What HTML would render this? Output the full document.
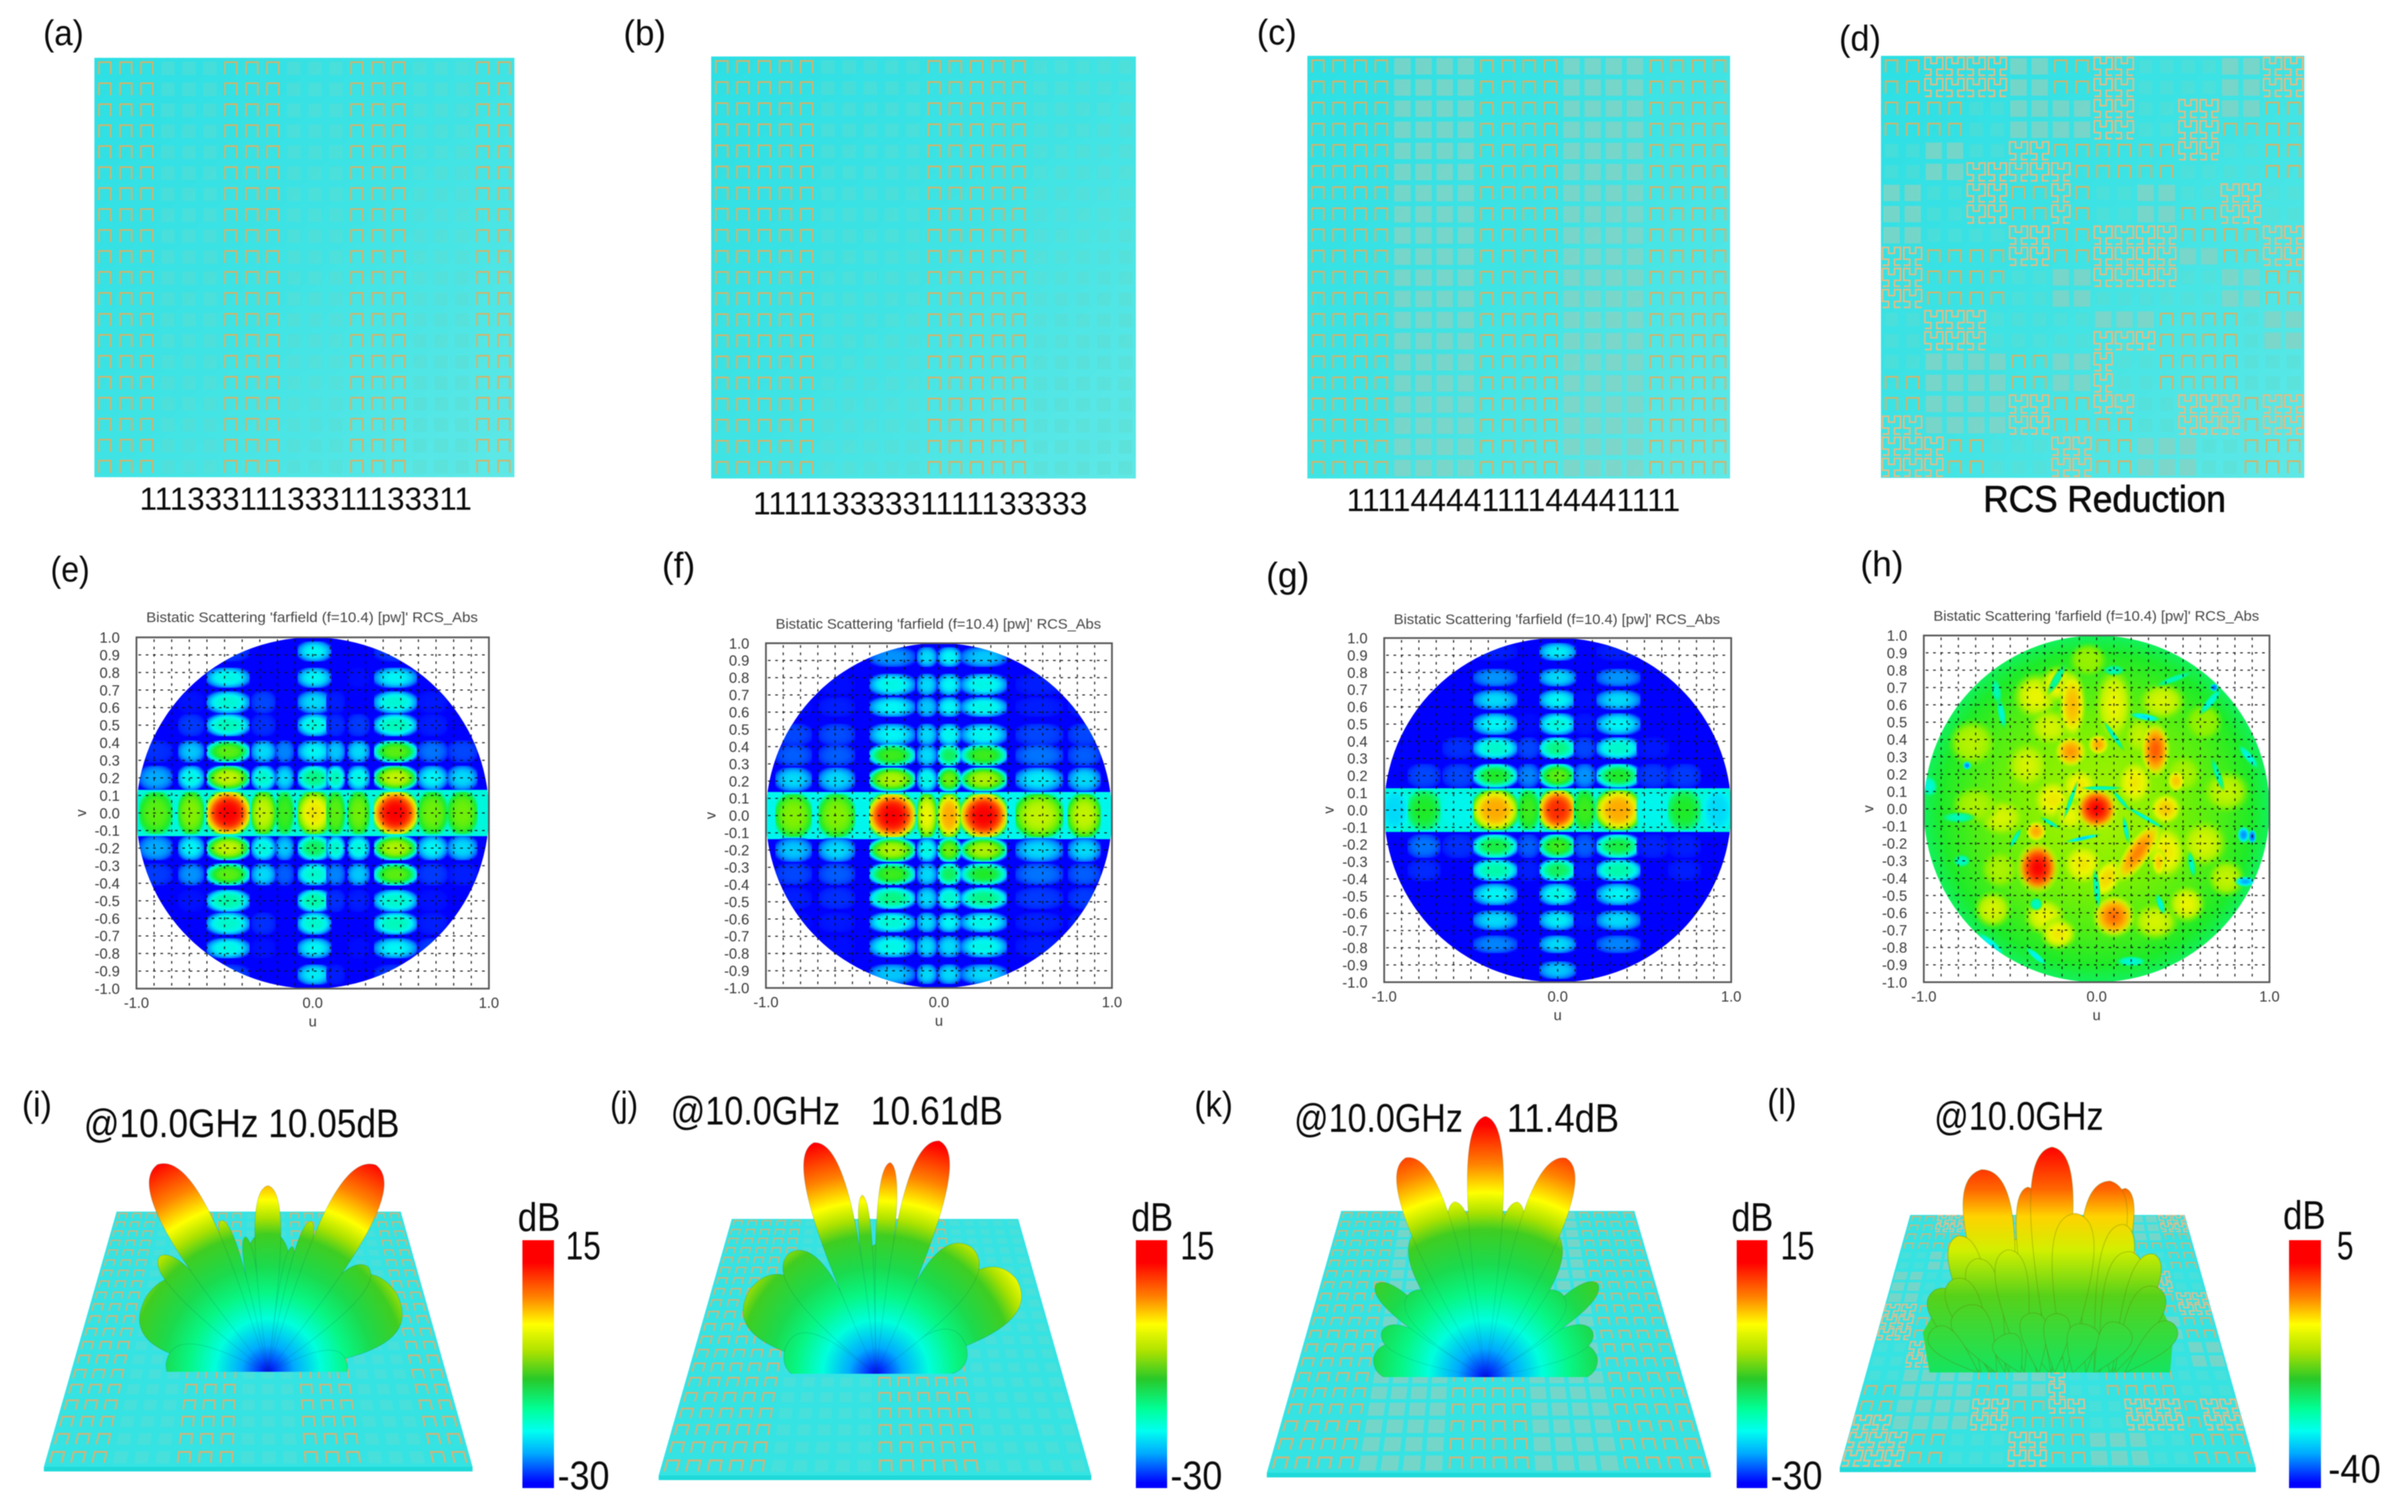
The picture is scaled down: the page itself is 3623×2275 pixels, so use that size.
<!DOCTYPE html>
<html lang="en">
<head>
<meta charset="utf-8">
<title>Coding metasurface RCS comparison</title>
<style>
html,body{margin:0;padding:0;background:#fff;}
#figure{position:relative;width:3623px;height:2275px;overflow:hidden;background:#fff;}
#root{position:absolute;left:0;top:0;filter:blur(0.8px);}
text{font-family:"Liberation Sans",sans-serif;fill:#0a0a0a;}
.title3d{font-size:60px;}
.cap{font-size:48px;}
.plabel{font-size:54px;}
.cb{font-size:60px;}
</style>
</head>
<body>
<div id="figure">
<svg id="root" xmlns="http://www.w3.org/2000/svg" width="3623" height="2275" viewBox="0 0 3623 2275">
<defs id="defs"></defs>
<g id="layer"></g>

<g>
<text class="plabel" x="65" y="68" textLength="61" lengthAdjust="spacingAndGlyphs">(a)</text>
<text class="plabel" x="938" y="68" textLength="64" lengthAdjust="spacingAndGlyphs">(b)</text>
<text class="plabel" x="1891" y="67" textLength="60" lengthAdjust="spacingAndGlyphs">(c)</text>
<text class="plabel" x="2767" y="76" textLength="63" lengthAdjust="spacingAndGlyphs">(d)</text>
<text class="plabel" x="76" y="875" textLength="59" lengthAdjust="spacingAndGlyphs">(e)</text>
<text class="plabel" x="996" y="869" textLength="50" lengthAdjust="spacingAndGlyphs">(f)</text>
<text class="plabel" x="1905" y="884" textLength="65" lengthAdjust="spacingAndGlyphs">(g)</text>
<text class="plabel" x="2799" y="867" textLength="65" lengthAdjust="spacingAndGlyphs">(h)</text>
<text class="plabel" x="33" y="1680" textLength="45" lengthAdjust="spacingAndGlyphs">(i)</text>
<text class="plabel" x="918" y="1680" textLength="42" lengthAdjust="spacingAndGlyphs">(j)</text>
<text class="plabel" x="1797" y="1680" textLength="58" lengthAdjust="spacingAndGlyphs">(k)</text>
<text class="plabel" x="2659" y="1676" textLength="44" lengthAdjust="spacingAndGlyphs">(l)</text>
</g>

<g>
<text class="cap" x="210" y="767" textLength="500" lengthAdjust="spacingAndGlyphs">11133311133311133311</text>
<text class="cap" x="1133" y="774" textLength="503" lengthAdjust="spacingAndGlyphs">11111333331111133333</text>
<text class="cap" x="2026" y="769" textLength="502" lengthAdjust="spacingAndGlyphs">11114444111144441111</text>
<text x="2984" y="770" font-size="56" stroke="#0a0a0a" stroke-width="1" textLength="365" lengthAdjust="spacingAndGlyphs">RCS Reduction</text>
</g>

<g>
<text class="title3d" x="126" y="1711" textLength="475" lengthAdjust="spacingAndGlyphs">@10.0GHz 10.05dB</text>
<text class="title3d" x="1009" y="1692" textLength="255" lengthAdjust="spacingAndGlyphs">@10.0GHz</text>
<text class="title3d" x="1310" y="1692" textLength="199" lengthAdjust="spacingAndGlyphs">10.61dB</text>
<text class="title3d" x="1947" y="1703" textLength="254" lengthAdjust="spacingAndGlyphs">@10.0GHz</text>
<text class="title3d" x="2267" y="1703" textLength="169" lengthAdjust="spacingAndGlyphs">11.4dB</text>
<text class="title3d" x="2910" y="1700" textLength="255" lengthAdjust="spacingAndGlyphs">@10.0GHz</text>
</g>

<g>
<text class="cb" x="779" y="1852" textLength="64" lengthAdjust="spacingAndGlyphs">dB</text>
<text class="cb" x="851" y="1895" textLength="53" lengthAdjust="spacingAndGlyphs">15</text>
<text class="cb" x="839" y="2241" textLength="78" lengthAdjust="spacingAndGlyphs">-30</text>
<text class="cb" x="1702" y="1852" textLength="63" lengthAdjust="spacingAndGlyphs">dB</text>
<text class="cb" x="1776" y="1895" textLength="51" lengthAdjust="spacingAndGlyphs">15</text>
<text class="cb" x="1761" y="2241" textLength="78" lengthAdjust="spacingAndGlyphs">-30</text>
<text class="cb" x="2605" y="1852" textLength="63" lengthAdjust="spacingAndGlyphs">dB</text>
<text class="cb" x="2679" y="1895" textLength="51" lengthAdjust="spacingAndGlyphs">15</text>
<text class="cb" x="2664" y="2241" textLength="78" lengthAdjust="spacingAndGlyphs">-30</text>
<text class="cb" x="3435" y="1849" textLength="64" lengthAdjust="spacingAndGlyphs">dB</text>
<text class="cb" x="3516" y="1895" textLength="25" lengthAdjust="spacingAndGlyphs">5</text>
<text class="cb" x="3503" y="2231" textLength="79" lengthAdjust="spacingAndGlyphs">-40</text>
</g>
</svg>
</div>

<script>
/* ---------- axis tick labels ---------- */
const vTickLabels = ['1.0','0.9','0.8','0.7','0.6','0.5','0.4','0.3','0.2','0.1','0.0','-0.1','-0.2','-0.3','-0.4','-0.5','-0.6','-0.7','-0.8','-0.9','-1.0'];
const vTickValues = [1,.9,.8,.7,.6,.5,.4,.3,.2,.1,0,-.1,-.2,-.3,-.4,-.5,-.6,-.7,-.8,-.9,-1];
const uTickLabels = ['-1.0','0.0','1.0'];
const uTickValues = [-1,0,1];
const gridValues = [-.9,-.8,-.7,-.6,-.5,-.4,-.3,-.2,-.1,0,.1,.2,.3,.4,.5,.6,.7,.8,.9];

/* ---------- coding sequences ---------- */
const codeA = '11133311133311133311';
const codeB = '11111333331111133333';
const codeC = '11114444111144441111';
const codeD = [
'11222244112233334422','11222244112233334422','11113344442233224411','11113344442233221111',
'33443322111111223311','33442222211111333311','44332211213344332233','44332211213344112233',
'44333322112222111122','22111122112222441122','22111133442222334411','22111133443333334411',
'33222333334441111344','33222333332221111344','33444411442331111333','11444411442331111333',
'11444422112233222122','22444422111133222122','22211333221144433111','22211333221144433111'];

/* ---------- RCS heatmap (e) ---------- */
const eU = [-.89,-.69,-.48,-.28,-.16,.01,.13,.26,.47,.68,.85];
const eUHalf = [.09,.07,.115,.065,.05,.09,.05,.06,.115,.08,.08];
const eV = [.92,.77,.63,.5,.35,.2,0,-.2,-.35,-.5,-.63,-.77,-.92];
const eVHalf = [.05,.05,.055,.055,.055,.06,.12,.06,.055,.055,.055,.05,.05];
const eLevels = [
[0,0,.1,0,0,.33,0,0,.1,0,0],
[0,0,.35,0,0,.33,0,.02,.33,0,0],
[0,.03,.37,.12,0,.3,.05,0,.37,.04,0],
[0,.1,.4,.08,0,.36,.08,.1,.4,.05,0],
[.08,.28,.58,.3,.2,.33,.28,.3,.58,.18,.12],
[.25,.35,.68,.38,.3,.45,.4,.35,.68,.33,.3],
[.58,.62,1,.68,.55,.74,.58,.6,1,.6,.6],
[.25,.33,.68,.36,.28,.48,.38,.36,.66,.33,.3],
[.1,.22,.58,.3,.15,.38,.2,.28,.58,.1,.05],
[0,.03,.42,0,0,.42,.08,.05,.38,.03,0],
[0,0,.38,.08,0,.38,0,0,.4,.05,0],
[0,0,.35,.03,0,.33,0,.02,.33,.1,0],
[0,0,.12,0,0,.32,.05,0,.1,0,0]];

/* ---------- RCS heatmap (f) ---------- */
const fU = [-.84,-.59,-.27,-.07,.06,.26,.58,.84];
const fUHalf = [.1,.1,.125,.055,.065,.125,.13,.09];
const fV = [.92,.76,.63,.47,.35,.21,0,-.2,-.34,-.48,-.62,-.76,-.92];
const fVHalf = [.05,.055,.05,.055,.055,.06,.125,.06,.055,.055,.05,.055,.05];
const fLevels = [
[0,0,.22,.3,.33,.28,0,0],
[.05,.02,.35,.3,.33,.35,.05,0],
[.02,.05,.33,.28,.33,.35,.05,.05],
[.12,.13,.33,.3,.34,.34,.12,.12],
[.15,.15,.55,.3,.48,.55,.18,.15],
[.3,.3,.66,.35,.6,.66,.32,.3],
[.62,.62,1,.72,.82,1,.68,.68],
[.28,.3,.66,.35,.6,.66,.3,.3],
[.12,.15,.55,.3,.48,.52,.18,.15],
[.05,.08,.45,.3,.38,.45,.1,.1],
[.02,.04,.37,.3,.33,.35,.06,.05],
[0,.02,.35,.3,.3,.35,.05,.02],
[0,0,.28,.3,.3,.3,0,0]];

/* ---------- RCS heatmap (g) ---------- */
const gU = [-.94,-.77,-.57,-.36,-.17,0,.155,.35,.55,.73,.92];
const gUHalf = [.07,.09,.09,.12,.06,.1,.06,.12,.09,.09,.07];
const gV = [.92,.77,.64,.5,.36,.2,0,-.21,-.35,-.49,-.64,-.78,-.93];
const gVHalf = [.045,.045,.05,.055,.055,.06,.115,.06,.055,.055,.05,.045,.045];
const gLevels = [
[0,0,0,.05,0,.32,0,.05,0,0,0],
[0,0,0,.22,0,.3,0,.22,0,0,0],
[0,0,0,.3,0,.33,.02,.3,0,0,0],
[0,0,0,.33,.02,.36,.04,.33,0,0,0],
[0,0,.08,.38,.12,.45,.12,.38,.04,0,0],
[0,.12,.12,.52,.2,.58,.22,.52,.1,.1,0],
[.3,.52,.34,.82,.55,.95,.55,.82,.34,.52,.3],
[0,.18,.08,.5,.15,.55,.15,.5,.06,.05,0],
[0,.07,0,.42,.05,.48,.05,.42,0,.05,0],
[0,0,0,.33,0,.35,0,.33,0,0,0],
[0,0,0,.3,0,.32,.03,.3,0,0,0],
[0,0,0,.2,0,.3,0,.2,0,0,0],
[0,0,0,0,0,.28,0,0,0,0,0]];

/* ---------- RCS heatmap (h): u, v, radius u, radius v, level, tilt ---------- */
const hHotspots = [
[-.35,.65,.1,.1,.72,0],[-.4,.25,.09,.1,.7,0],[-.25,.05,.09,.09,.74,0],[-.1,.13,.08,.08,.74,0],[-.55,-.05,.1,.08,.7,0],
[-.72,.38,.1,.1,.67,0],[.1,.6,.08,.16,.72,0],[.38,.62,.1,.08,.7,0],[.4,0,.07,.07,.78,0],[.4,-.25,.09,.12,.74,0],
[.62,-.2,.1,.1,.7,0],[.75,-.4,.08,.08,.68,0],[.5,.2,.08,.08,.66,0],[.75,.1,.1,.09,.68,0],[-.7,.02,.1,.08,.66,0],
[-.3,-.62,.09,.08,.72,0],[-.6,-.58,.08,.08,.7,0],[-.22,-.72,.08,.07,.74,0],[.34,-.65,.1,.08,.7,0],[.52,-.55,.08,.08,.72,0],
[-.05,.86,.08,.07,.64,0],[.22,.15,.08,.1,.74,0],[-.08,-.32,.09,.09,.74,0],[.06,-.4,.06,.1,.76,30],[.25,.42,.07,.08,.68,0],
[-.27,.47,.09,.08,.7,0],[-.15,-.04,.07,.07,.72,0],[-.56,-.35,.08,.08,.66,0],[.62,.5,.08,.08,.64,0],[-.22,.72,.08,.08,.74,0],
[-.14,.6,.06,.15,.8,0],[-.15,.33,.075,.075,.84,0],[.01,.37,.05,.05,.82,0],[.34,.34,.07,.13,.9,0],[.46,.16,.04,.05,.78,0],
[.1,-.62,.1,.1,.88,0],[.24,-.25,.06,.17,.86,35],[-.35,-.13,.05,.05,.82,0],[.36,-.31,.03,.06,.78,0],
[0,0,.1,.1,1,0],[-.34,-.34,.1,.12,1,0]];
/* u, v, half length, half thickness, level, tilt */
const hStreaks = [
[-.55,.55,.07,.018,.36,80],[-.58,.68,.06,.025,.4,80],[.28,.53,.07,.016,.3,10],[.1,.42,.08,.012,.38,55],[-.23,.75,.08,.02,.42,-60],
[.03,.12,.09,.01,.38,0],[-.15,.05,.09,.01,.38,-70],[.14,.05,.06,.01,.38,50],[.28,-.05,.1,.01,.36,30],[.17,-.12,.06,.012,.36,80],
[-.08,-.17,.08,.01,.28,-12],[-.27,-.08,.05,.01,.38,30],[-.47,-.17,.05,.012,.38,-60],[-.8,-.05,.08,.025,.4,0],[-.75,.25,.02,.02,.2,0],
[-.97,.13,.05,.04,.36,80],[-.78,-.3,.04,.03,.38,0],[-.35,-.55,.03,.03,.38,0],[.0,-.46,.09,.016,.38,85],[.37,-.55,.05,.016,.36,70],
[.55,-.32,.06,.016,.38,80],[.86,-.42,.05,.025,.25,0],[.88,.3,.07,.02,.34,50],[.66,.62,.08,.02,.36,-50],[.85,-.15,.03,.04,.22,0],
[-.35,-.85,.06,.016,.32,40],[-.61,-.78,.08,.02,.32,40],[.2,-.88,.07,.025,.36,0],[.1,.8,.05,.025,.4,0],[.7,.2,.08,.016,.4,70],
[.68,.7,.02,.02,.18,0],[.9,-.16,.02,.035,.16,0],[.45,.75,.09,.016,.4,-20],[-.62,-.92,.03,.02,.36,0]];

/* ---------- radiation lobes: angle from boresight (deg), peak level (dB), beam width (deg) ---------- */
const iAngle = [-58,58,-85,85,0,-35,35,-43,43.5,-18,20,11,-9.5,16,-17,0,-28,27.5];
const iPeakDb = [-5.6,-4.3,-12.6,-16.4,-6,-12,-12,-3,-5.2,-12,-12,-8.2,-6.6,-3.2,-2.9,1.8,10.05,9.8];
const iBeam = [36,34,30,30,22,20,20,12,15,14,14,6,6,7,7,10,14.5,14.5];

const jAngle = [-56.4,56,-75,72,-20,20,0,-35.4,36.7,-4.4,3.8,-15,15.2];
const jPeakDb = [-4.3,-1.3,-14,-14,-14,-14,-8,-4.8,-3.1,.4,5.9,10.56,10.9];
const jBeam = [32,26,34,34,20,20,12,20,22,5,6.5,12,12];

const kAngle = [-80,80,-65.8,66.6,-49.5,50,-42,42,-22,22,0,-10,10.3,-19.9,20.1,0];
const kPeakDb = [-12,-12,-12,-11.5,-7.2,-6.8,-12,-12,-4,-4,-2,-1.7,-1.7,7.05,7.05,11.4];
const kBeam = [24,24,18,18,12,12,22,22,24,24,20,10,10,13,13,10];

const lRoot = [0,-.5,.5,.38,.3,-.11,.04,.01,-.34,.13,-.46,.37,-.37,-.21,.41,.52,-.57,-.48,.54,-.44,-.09,.04,-.24,.19,.37,.62,-.59];
const lAngle = [0,-8,8,9.3,7.2,-2.7,1,.3,-7.6,3.7,-15,11.2,-14.5,-7.9,15,19.2,-29,-22,26.5,-28,-7,3,-27,17,31,45.7,-47.6];
const lPeakDb = [-14,-20,-20,-4.8,-3.6,-5,-6.6,2.5,-1.4,-9.9,-13.3,-11.5,-17.8,-16.6,-16.4,-16.3,-22.1,-20.9,-22,-26,-28.6,-28.8,-32.1,-30.5,-29.4,-26.9,-28];
const lBeam = [60,30,30,10.5,16.5,10.5,13,13.5,17,18.5,16.5,15.5,19.5,18.5,20,16.5,25,23,25,36,31,31,47,44,40,27,30];

/* ---------- colour scale (position along colorbar, RGB) ---------- */
const barStops = [[0,0,0,255],[.02,0,0,255],[.14,0,170,255],[.23,0,255,240],[.32,0,255,150],[.44,40,200,40],[.55,170,225,0],[.66,255,255,0],[.77,255,130,0],[.91,255,0,0],[1,255,0,0]];
const heatStops = [[0,0,0,255],[.12,0,70,255],[.25,0,170,255],[.33,0,245,245],[.42,0,250,170],[.52,30,235,40],[.62,130,240,0],[.72,235,245,0],[.82,255,170,0],[.92,255,70,0],[1,250,0,0]];
/* gain radius fraction to colorbar position for the lobe surfaces */
const lobeShade = [[0,0],[.1,.14],[.2,.25],[.3,.34],[.4,.4],[.52,.46],[.58,.55],[.65,.66],[.75,.77],[.89,.91],[1,1]];

const NS = 'http://www.w3.org/2000/svg';
const defs = document.getElementById('defs');
const layer = document.getElementById('layer');

function mk(tag, attrs, parent) {
  const e = document.createElementNS(NS, tag);
  for (const k in attrs) e.setAttribute(k, attrs[k]);
  if (parent) parent.appendChild(e);
  return e;
}
function ramp(stops, t) {
  t = Math.max(0, Math.min(1, t));
  for (let i = 1; i < stops.length; i++) {
    if (t <= stops[i][0]) {
      const a = stops[i - 1], b = stops[i], f = (t - a[0]) / ((b[0] - a[0]) || 1);
      return 'rgb(' + [1, 2, 3].map(c => Math.round(a[c] + (b[c] - a[c]) * f)).join(',') + ')';
    }
  }
  return 'rgb(250,0,0)';
}
const heatColor = t => ramp(heatStops, t);
const barColor = t => ramp(barStops, t);

/* ---------- metasurface unit cells ---------- */
const hilbertPts = [[0,3],[1,3],[1,2],[0,2],[0,1],[0,0],[1,0],[1,1],[2,1],[2,0],[3,0],[3,1],[3,2],[2,2],[2,3],[3,3]];

function drawBoard(group, rowsOfCodes, project, base) {
  const nRows = rowsOfCodes.length;
  for (let r = 0; r < nRows; r++) {
    const code = rowsOfCodes[r];
    const nCols = code.length;
    for (let c = 0; c < nCols; c++) {
      const cu = (c + .5) / nCols, cv = (r + .5) / nRows, du = 1 / nCols, dv = 1 / nRows;
      const pt = (a, b) => project(cu + a * du, cv + b * dv);
      const pitch = project(cu + du / 2, cv)[0] - project(cu - du / 2, cv)[0];
      const sw = Math.max(1.2, pitch * base.strokeRatio);
      const ch = code[c];
      if (ch === '1') {
        const p = [pt(-.28, .29), pt(-.28, -.29), pt(.28, -.29), pt(.28, .29)];
        const cell = mk('polyline', {points: p.map(q => q.map(v => v.toFixed(1)).join(',')).join(' '), fill: 'none', stroke: base.metal, 'stroke-width': sw.toFixed(2)}, group);
        
        
      } else if (ch === '2') {
        const s = .84 / 3;
        const p = hilbertPts.map(q => pt(-.42 + q[0] * s, -.42 + q[1] * s));
        const cell = mk('polyline', {points: p.map(q => q.map(v => v.toFixed(1)).join(',')).join(' '), fill: 'none', stroke: base.metal2, 'stroke-width': sw.toFixed(2)}, group);
        
        
      } else {
        const h = ch === '4' ? .39 : .32;
        const p = [pt(-h, -h), pt(h, -h), pt(h, h), pt(-h, h)];
        const cell = mk('polygon', {points: p.map(q => q.map(v => v.toFixed(1)).join(',')).join(' '), fill: ch === '4' ? '#8ad2c0' : '#5fdccf', 'fill-opacity': ch === '4' ? .75 : .45}, group);
        
        
      }
    }
  }
}

const boardGrad = mk('linearGradient', {id: 'boardFill', x1: 0, y1: 0, x2: 1, y2: 1}, defs);
mk('stop', {offset: 0, 'stop-color': '#2cdfe4'}, boardGrad);
mk('stop', {offset: .5, 'stop-color': '#3fe3e4'}, boardGrad);
mk('stop', {offset: 1, 'stop-color': '#5ee8e6'}, boardGrad);

function expand(code) { const a = []; for (let i = 0; i < 20; i++) a.push(code); return a; }

function flatPanel(key, codes, x0, y0, x1, y1) {
  const g = mk('g', {}, layer);
  
  
  const bg = mk('rect', {x: x0, y: y0, width: x1 - x0, height: y1 - y0, fill: 'url(#boardFill)'}, g);
  
  
  drawBoard(g, codes, (u, v) => [x0 + u * (x1 - x0), y0 + v * (y1 - y0)], {strokeRatio: .075, metal: '#dab065', metal2: '#e8ba82'});
}
flatPanel('a', expand(codeA), 142, 87, 774, 718);
flatPanel('b', expand(codeB), 1070, 85, 1709, 720);
flatPanel('c', expand(codeC), 1967, 84, 2603, 720);
flatPanel('d', codeD, 2830, 84, 3467, 719);

/* ---------- RCS plots ---------- */
const gradCache = {};
function blobGradient(level, floor) {
  const key = 'b' + Math.round(level * 100) + '_' + Math.round(floor * 100);
  if (gradCache[key]) return key;
  gradCache[key] = 1;
  const g = mk('radialGradient', {id: key, cx: .5, cy: .5, r: .62}, defs);
  for (let i = 0; i <= 10; i++) {
    const t = i / 10;
    const lv = floor + (level - floor) * (1 - Math.pow(t, 3.4));
    mk('stop', {offset: t, 'stop-color': heatColor(lv), 'stop-opacity': t < .85 ? 1 : (1 - (t - .85) / .15).toFixed(2)}, g);
  }
  return key;
}
function softGradient(level, rim) {
  const key = 's' + Math.round(level * 100) + '_' + Math.round(rim * 100);
  if (gradCache[key]) return key;
  gradCache[key] = 1;
  const g = mk('radialGradient', {id: key, cx: .5, cy: .5, r: .5}, defs);
  for (let i = 0; i <= 8; i++) {
    const t = i / 8;
    const lv = rim + (level - rim) * (1 - t * t);
    mk('stop', {offset: t, 'stop-color': heatColor(lv), 'stop-opacity': t < .6 ? 1 : (1 - (t - .6) / .4).toFixed(2)}, g);
  }
  return key;
}

function rcsFrame(key, x0, y0, x1, y1, titleX0, titleX1, titleY) {
  const X = u => x0 + (u + 1) / 2 * (x1 - x0);
  const Y = v => y1 - (v + 1) / 2 * (y1 - y0);
  const g = mk('g', {}, layer);
  
  
  const clip = mk('clipPath', {id: 'disc' + key}, defs);
  mk('ellipse', {cx: X(0), cy: Y(0), rx: (x1 - x0) / 2, ry: (y1 - y0) / 2}, clip);
  const field = mk('g', {'clip-path': 'url(#disc' + key + ')'}, g);
  
  
  return {X, Y, g, field, finish() {
    const grid = mk('g', {stroke: '#111', 'stroke-width': 1.5, 'stroke-dasharray': '4 7', fill: 'none'}, g);
    
    
    gridValues.forEach(u => {
      const l = mk('line', {x1: X(u), x2: X(u), y1: y0 + 3, y2: y1 - 3}, grid);
      
      
    });
    gridValues.forEach(v => {
      const l = mk('line', {x1: x0 + 3, x2: x1 - 3, y1: Y(v), y2: Y(v)}, grid);
      
      
    });
    const box = mk('rect', {x: x0, y: y0, width: x1 - x0, height: y1 - y0, fill: 'none', stroke: '#555', 'stroke-width': 2.6}, g);
    
    
    vTickLabels.forEach((lab, i) => {
      const t = mk('text', {x: x0 - 25, y: Y(vTickValues[i]) + 8, 'text-anchor': 'end', 'font-size': 22, style: 'fill:#383838'}, g);
      t.textContent = lab;
      
      
    });
    uTickLabels.forEach((lab, i) => {
      const t = mk('text', {x: X(uTickValues[i]), y: y1 + 29, 'text-anchor': 'middle', 'font-size': 22, style: 'fill:#383838'}, g);
      t.textContent = lab;
      
      
    });
    const xt = mk('text', {x: X(0), y: y1 + 57, 'text-anchor': 'middle', 'font-size': 22, style: 'fill:#383838'}, g);
    xt.textContent = 'u';
    
    
    const yt = mk('text', {x: x0 - 76, y: Y(0), 'text-anchor': 'middle', 'font-size': 22, transform: 'rotate(-90 ' + (x0 - 76) + ' ' + Y(0) + ')', style: 'fill:#383838'}, g);
    yt.textContent = 'v';
    
    
    const tt = mk('text', {x: titleX0, y: titleY, 'font-size': 21, textLength: titleX1 - titleX0, lengthAdjust: 'spacingAndGlyphs', style: 'fill:#444'}, g);
    tt.textContent = "Bistatic Scattering 'farfield (f=10.4) [pw]' RCS_Abs";
    
    
  }};
}

function gridHeat(key, box, U, UHalf, V, VHalf, levels, bandLevel, title) {
  const f = rcsFrame(key, box[0], box[1], box[2], box[3], title[0], title[1], title[2]);
  const X = f.X, Y = f.Y;
  const disc = mk('rect', {x: box[0], y: box[1], width: box[2] - box[0], height: box[3] - box[1], fill: heatColor(0)}, f.field);
  
  
  const bandRow = V.indexOf(0);
  const hh = VHalf[bandRow] + .012;
  const band = mk('rect', {x: box[0], y: Y(hh), width: box[2] - box[0], height: Y(-hh) - Y(hh), fill: heatColor(bandLevel)}, f.field);
  
  
  V.forEach((v, j) => {
    U.forEach((u, i) => {
      const L = levels[j][i];
      if (L < .02) return;
      const vGrow = v === 0 ? 1 : 1.15;
      const x = X(u - UHalf[i] * 1.06), w = X(u + UHalf[i] * 1.06) - x, y = Y(v + VHalf[j] * vGrow), h = Y(v - VHalf[j] * vGrow) - y;
      const floor = v === 0 ? bandLevel : 0;
      const cell = mk('rect', {x: x, y: y, width: w, height: h, fill: 'url(#' + blobGradient(L, floor) + ')'}, f.field);
      
      
    });
  });
  f.finish();
}
gridHeat('e', [205.3, 959, 735.6, 1487.5], eU, eUHalf, eV, eVHalf, eLevels, .36, [220, 719, 936]);
gridHeat('f', [1152.4, 967.8, 1673, 1486.5], fU, fUHalf, fV, fVHalf, fLevels, .34, [1167, 1656.6, 946]);
gridHeat('g', [2082.6, 960, 2604.7, 1477.8], gU, gUHalf, gV, gVHalf, gLevels, .36, [2097, 2588, 939]);

(function () {
  const box = [2894.5, 956.2, 3414.6, 1477.8];
  const f = rcsFrame('h', box[0], box[1], box[2], box[3], 2909, 3399, 934);
  const X = f.X, Y = f.Y;
  const baseG = mk('radialGradient', {id: 'hBase', cx: .5, cy: .5, r: .5}, defs);
  [[0, .66], [.4, .62], [.7, .57], [.9, .52], [1, .48]].forEach(s => {
    mk('stop', {offset: s[0], 'stop-color': heatColor(s[1])}, baseG);
  });
  const bg = mk('rect', {x: box[0], y: box[1], width: box[2] - box[0], height: box[3] - box[1], fill: 'url(#hBase)'}, f.field);
  
  
  function spot(s, rim, grow, name) {
    const cx = X(s[0]), cy = Y(s[1]), rx = X(s[2]) - X(0), ry = Y(0) - Y(s[3]);
    const e = mk('ellipse', {cx: cx, cy: cy, rx: rx * grow, ry: ry * grow, fill: 'url(#' + softGradient(s[4], rim) + ')', transform: 'rotate(' + s[5] + ' ' + cx + ' ' + cy + ')'}, f.field);
    
    
  }
  hHotspots.forEach(s => spot(s, .6, s[4] > .8 ? 1.35 : 1.45, 'heat-hotspot'));
  hStreaks.forEach(s => spot(s, .52, 1.4, 'heat-null-streak'));
  f.finish();
})();

/* ---------- 3D patterns ---------- */
function perspective(top, bottom) {
  const zTop = bottom.x1 - bottom.x0, zBot = top.x1 - top.x0;
  return (u, v) => {
    const z = zTop + (zBot - zTop) * v;
    const y = (top.y * zTop + (bottom.y * zBot - top.y * zTop) * v) / z;
    const lx = (top.x0 * zTop + (bottom.x0 * zBot - top.x0 * zTop) * v) / z;
    const rx = (top.x1 * zTop + (bottom.x1 * zBot - top.x1 * zTop) * v) / z;
    return [lx + (rx - lx) * u, y];
  };
}
function lobePath(bx, by, angDeg, r, beamDeg) {
  const a = angDeg * Math.PI / 180, dx = Math.sin(a), dy = -Math.cos(a), px = Math.cos(a), py = Math.sin(a);
  const W = 2 * r * Math.tan(beamDeg * Math.PI / 360);
  const P = (al, la) => (bx + al * r * dx + la * W * px).toFixed(1) + ' ' + (by + al * r * dy + la * W * py).toFixed(1);
  return 'M' + P(0, 0) + ' C' + P(.42, .3) + ' ' + P(.97, .72) + ' ' + P(1, 0) + ' C' + P(.97, -.72) + ' ' + P(.42, -.3) + ' ' + P(0, 0) + 'Z';
}

function pattern3d(key, codes, top, bottom, base, opts) {
  const g = mk('g', {}, layer);
  
  
  const lip = mk('polygon', {points: [bottom.x0, bottom.y, bottom.x1, bottom.y, bottom.x1, bottom.y + 7, bottom.x0, bottom.y + 7].join(' '), fill: '#1fd9d9'}, g);
  
  
  const deck = mk('polygon', {points: [top.x0, top.y, top.x1, top.y, bottom.x1, bottom.y, bottom.x0, bottom.y].join(' '), fill: '#35e3e3'}, g);
  
  
  drawBoard(g, codes, perspective(top, bottom), {strokeRatio: .085, metal: '#d3b277', metal2: '#e3bc8c'});

  const clip = mk('clipPath', {id: 'lobeClip' + key}, defs);
  mk('rect', {x: 0, y: 0, width: 3623, height: base.y}, clip);
  const lobes = mk('g', {'clip-path': 'url(#lobeClip' + key + ')'}, g);
  
  

  const R = 45 * opts.pxPerDb;
  let gradId = 'lobeGrad' + key;
  if (opts.vertical) {
    const lg = mk('linearGradient', {id: gradId, gradientUnits: 'userSpaceOnUse', x1: 0, x2: 0, y1: base.y - 340, y2: base.y}, defs);
    [[0, .95], [.19, .8], [.31, .7], [.46, .6], [.66, .48], [1, .38]].forEach(s => {
      mk('stop', {offset: s[0], 'stop-color': barColor(s[1])}, lg);
    });
    const block = mk('polygon', {points: [base.x - base.half, base.y, base.x - base.half - 10, base.y - 60, base.x - base.half + 30, base.y - 130, base.x + base.half - 30, base.y - 130, base.x + base.half + 5, base.y - 60, base.x + base.half, base.y].join(' '), fill: 'url(#' + gradId + ')'}, lobes);
    
    
  } else {
    const rg = mk('radialGradient', {id: gradId, gradientUnits: 'userSpaceOnUse', cx: base.x, cy: base.y, r: R}, defs);
    lobeShade.forEach(s => {
      mk('stop', {offset: s[0], 'stop-color': barColor(s[1])}, rg);
    });
  }
  opts.angle.forEach((ang, i) => {
    const r = (opts.db[i] - opts.minDb) * opts.pxPerDb;
    const bx = base.x + (opts.root ? opts.root[i] * base.half : 0);
    const p = mk('path', {d: lobePath(bx, base.y + 1, ang, r, opts.beam[i]), fill: 'url(#' + gradId + ')', stroke: opts.edge, 'stroke-width': 1.4}, lobes);
    
    
  });
}

pattern3d('i', expand(codeA), {y: 1823, x0: 175.4, x1: 603}, {y: 2207, x0: 66, x1: 711}, {x: 403, y: 2064, half: 137},
  {angle: iAngle, db: iPeakDb, beam: iBeam, pxPerDb: 8.84, minDb: -30, edge: 'rgba(0,80,80,.14)'});
pattern3d('j', expand(codeB), {y: 1834, x0: 1101, x1: 1532}, {y: 2220, x0: 991, x1: 1642}, {x: 1318, y: 2067, half: 137},
  {angle: jAngle, db: jPeakDb, beam: jBeam, pxPerDb: 8.9, minDb: -30, edge: 'rgba(0,80,80,.14)'});
pattern3d('k', expand(codeC), {y: 1822, x0: 2018, x1: 2459}, {y: 2216, x0: 1906, x1: 2574}, {x: 2235, y: 2072, half: 172},
  {angle: kAngle, db: kPeakDb, beam: kBeam, pxPerDb: 9.5, minDb: -30, edge: 'rgba(0,80,80,.12)'});
pattern3d('l', codeD, {y: 1828, x0: 2874, x1: 3287}, {y: 2208, x0: 2768, x1: 3394}, {x: 3084, y: 2065, half: 181},
  {angle: lAngle, db: lPeakDb, beam: lBeam, root: lRoot, pxPerDb: 8, minDb: -40, vertical: true, edge: 'rgba(90,120,0,.3)'});

/* ---------- colorbars ---------- */
const barGrad = mk('linearGradient', {id: 'barGrad', x1: 0, y1: 1, x2: 0, y2: 0}, defs);
barStops.forEach(s => {
  mk('stop', {offset: s[0], 'stop-color': barColor(s[0])}, barGrad);
});
[['i', 786, 833.5], ['j', 1709, 1756], ['k', 2613, 2659], ['l', 3444, 3492]].forEach(b => {
  const r = mk('rect', {x: b[1], y: 1866, width: b[2] - b[1], height: 373, fill: 'url(#barGrad)'}, layer);
  
  
});
</script>
</body>
</html>
